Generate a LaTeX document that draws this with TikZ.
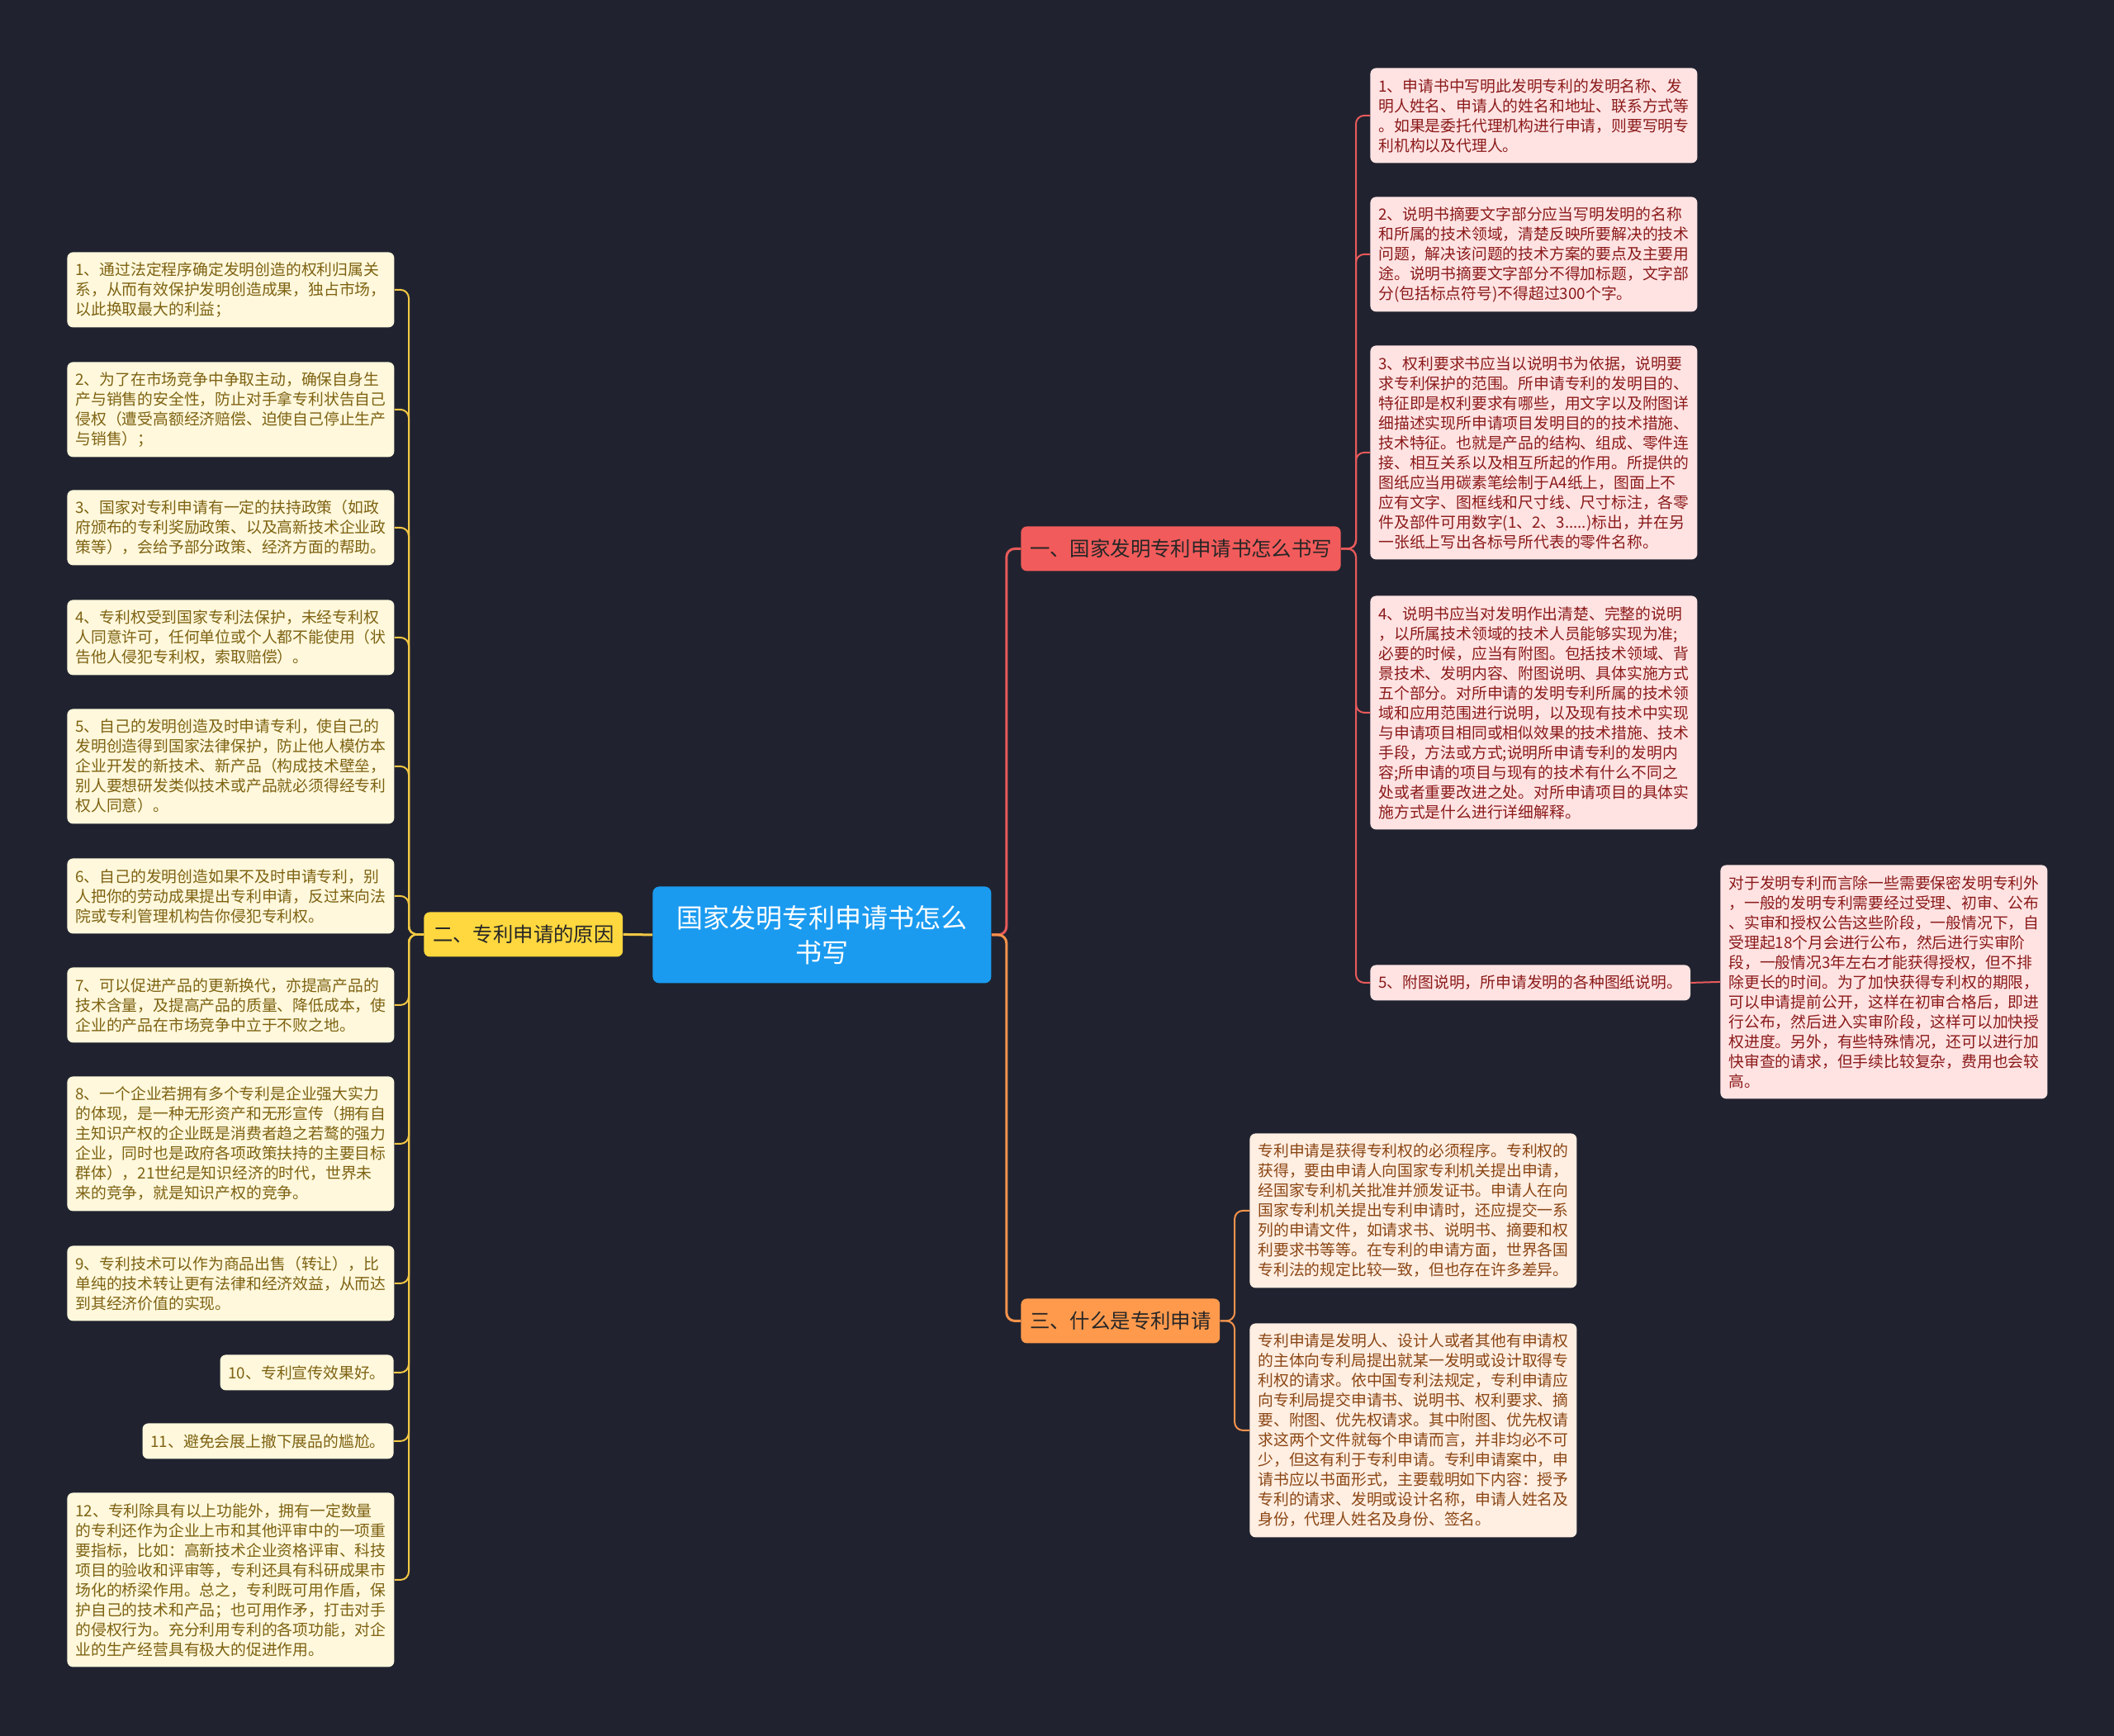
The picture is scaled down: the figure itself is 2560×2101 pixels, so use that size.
\documentclass[tikz,border=0pt]{standalone}
\usepackage{fontspec}
\setmainfont{Noto Sans CJK SC}
\usepackage{xcolor}
\usepackage{tikz}
\definecolor{bgdark}{HTML}{20232F}
\definecolor{rootblue}{HTML}{1A9BF0}
\definecolor{redmain}{HTML}{F25B5B}
\definecolor{yelmain}{HTML}{FFD83F}
\definecolor{orgmain}{HTML}{FF9A4D}
\definecolor{redleaf}{HTML}{FFE3E3}
\definecolor{yelleaf}{HTML}{FFF8DC}
\definecolor{orgleaf}{HTML}{FFEEE2}
\definecolor{redtext}{HTML}{8B1A1A}
\definecolor{yeltext}{HTML}{7D6212}
\definecolor{orgtext}{HTML}{8A4614}
\definecolor{redline}{HTML}{E85A5A}
\definecolor{yelline}{HTML}{F2C744}
\definecolor{orgline}{HTML}{F5934C}

\begin{document}
\begin{tikzpicture}[x=0.5pt,y=-0.5pt,
	root/.style={fill=rootblue,text=white,rounded corners=4pt,anchor=north west,align=center,
		minimum width=205pt,minimum height=58.5pt,font=\fontsize{16}{21}\selectfont},
	branch/.style={rounded corners=3.5pt,anchor=north west,inner xsep=5.3pt,
		minimum height=27pt,text=black!85,font=\fontsize{12.2}{14}\selectfont},
	leaf/.style={rounded corners=3.5pt,anchor=north west,inner xsep=5pt,inner ysep=2pt,
		align=left,font=\fontsize{9.4}{12}\selectfont},
	wide/.style={text width=188pt},
	leafY/.style={leaf,fill=yelleaf,text=yeltext},
	leafR/.style={leaf,fill=redleaf,text=redtext},
	leafO/.style={leaf,fill=orgleaf,text=orgtext},
	mainlink/.style={line width=1.5pt,rounded corners=5pt},
	link/.style={line width=1pt,rounded corners=5pt}]

	\useasboundingbox (0,0) rectangle (2560,2101);
	\fill[bgdark] (-6,-6) rectangle (2566,2107);

	\node[root] (ctr) at (790,1073) {国家发明专利申请书怎么\\书写};
	\node[branch,fill=redmain] (b1) at (1236,637) {一、国家发明专利申请书怎么书写};
	\node[branch,fill=yelmain] (b2) at (513,1104) {二、专利申请的原因};
	\node[branch,fill=orgmain] (b3) at (1236,1572) {三、什么是专利申请};

	\node[leafY,wide,minimum height=45.5pt] (l1) at (81,305) {1、通过法定程序确定发明创造的权利归属关\\系，从而有效保护发明创造成果，独占市场，\\以此换取最大的利益；};
	\node[leafY,wide,minimum height=57.5pt] (l2) at (81,438) {2、为了在市场竞争中争取主动，确保自身生\\产与销售的安全性，防止对手拿专利状告自己\\侵权（遭受高额经济赔偿、迫使自己停止生产\\与销售）；};
	\node[leafY,wide,minimum height=45.5pt] (l3) at (81,593) {3、国家对专利申请有一定的扶持政策（如政\\府颁布的专利奖励政策、以及高新技术企业政\\策等），会给予部分政策、经济方面的帮助。};
	\node[leafY,wide,minimum height=45.5pt] (l4) at (81,726) {4、专利权受到国家专利法保护，未经专利权\\人同意许可，任何单位或个人都不能使用（状\\告他人侵犯专利权，索取赔偿）。};
	\node[leafY,wide,minimum height=69.5pt] (l5) at (81,858) {5、自己的发明创造及时申请专利，使自己的\\发明创造得到国家法律保护，防止他人模仿本\\企业开发的新技术、新产品（构成技术壁垒，\\别人要想研发类似技术或产品就必须得经专利\\权人同意）。};
	\node[leafY,wide,minimum height=45.5pt] (l6) at (81,1039) {6、自己的发明创造如果不及时申请专利，别\\人把你的劳动成果提出专利申请，反过来向法\\院或专利管理机构告你侵犯专利权。};
	\node[leafY,wide,minimum height=45.5pt] (l7) at (81,1171) {7、可以促进产品的更新换代，亦提高产品的\\技术含量，及提高产品的质量、降低成本，使\\企业的产品在市场竞争中立于不败之地。};
	\node[leafY,wide,minimum height=81.5pt] (l8) at (81,1303) {8、一个企业若拥有多个专利是企业强大实力\\的体现，是一种无形资产和无形宣传（拥有自\\主知识产权的企业既是消费者趋之若鹜的强力\\企业，同时也是政府各项政策扶持的主要目标\\群体），21世纪是知识经济的时代，世界未\\来的竞争，就是知识产权的竞争。};
	\node[leafY,wide,minimum height=45.5pt] (l9) at (81,1508) {9、专利技术可以作为商品出售（转让），比\\单纯的技术转让更有法律和经济效益，从而达\\到其经济价值的实现。};
	\node[leafY,anchor=north east,minimum height=21.5pt] (l10) at (477,1640) {10、专利宣传效果好。};
	\node[leafY,anchor=north east,minimum height=21.5pt] (l11) at (477,1723) {11、避免会展上撤下展品的尴尬。};
	\node[leafY,wide,minimum height=105.5pt] (l12) at (81,1807) {12、专利除具有以上功能外，拥有一定数量\\的专利还作为企业上市和其他评审中的一项重\\要指标，比如：高新技术企业资格评审、科技\\项目的验收和评审等，专利还具有科研成果市\\场化的桥梁作用。总之，专利既可用作盾，保\\护自己的技术和产品；也可用作矛，打击对手\\的侵权行为。充分利用专利的各项功能，对企\\业的生产经营具有极大的促进作用。};

	\node[leafR,wide,minimum height=57.5pt] (r1) at (1659,82) {1、申请书中写明此发明专利的发明名称、发\\明人姓名、申请人的姓名和地址、联系方式等\\。如果是委托代理机构进行申请，则要写明专\\利机构以及代理人。};
	\node[leafR,wide,minimum height=69.5pt] (r2) at (1659,238) {2、说明书摘要文字部分应当写明发明的名称\\和所属的技术领域，清楚反映所要解决的技术\\问题，解决该问题的技术方案的要点及主要用\\途。说明书摘要文字部分不得加标题，文字部\\分(包括标点符号)不得超过300个字。};
	\node[leafR,wide,minimum height=129.5pt] (r3) at (1659,418) {3、权利要求书应当以说明书为依据，说明要\\求专利保护的范围。所申请专利的发明目的、\\特征即是权利要求有哪些，用文字以及附图详\\细描述实现所申请项目发明目的的技术措施、\\技术特征。也就是产品的结构、组成、零件连\\接、相互关系以及相互所起的作用。所提供的\\图纸应当用碳素笔绘制于A4纸上，图面上不\\应有文字、图框线和尺寸线、尺寸标注，各零\\件及部件可用数字(1、2、3.....)标出，并在另\\一张纸上写出各标号所代表的零件名称。};
	\node[leafR,wide,minimum height=141.5pt] (r4) at (1659,721) {4、说明书应当对发明作出清楚、完整的说明\\，以所属技术领域的技术人员能够实现为准;\\必要的时候，应当有附图。包括技术领域、背\\景技术、发明内容、附图说明、具体实施方式\\五个部分。对所申请的发明专利所属的技术领\\域和应用范围进行说明，以及现有技术中实现\\与申请项目相同或相似效果的技术措施、技术\\手段，方法或方式;说明所申请专利的发明内\\容;所申请的项目与现有的技术有什么不同之\\处或者重要改进之处。对所申请项目的具体实\\施方式是什么进行详细解释。};
	\node[leafR,minimum height=21.5pt] (r5) at (1659,1168) {5、附图说明，所申请发明的各种图纸说明。};
	\node[leafR,wide,minimum height=141.5pt] (r5a) at (2083,1047) {对于发明专利而言除一些需要保密发明专利外\\，一般的发明专利需要经过受理、初审、公布\\、实审和授权公告这些阶段，一般情况下，自\\受理起18个月会进行公布，然后进行实审阶\\段，一般情况3年左右才能获得授权，但不排\\除更长的时间。为了加快获得专利权的期限，\\可以申请提前公开，这样在初审合格后，即进\\行公布，然后进入实审阶段，这样可以加快授\\权进度。另外，有些特殊情况，还可以进行加\\快审查的请求，但手续比较复杂，费用也会较\\高。};

	\node[leafO,wide,minimum height=93.5pt] (t1) at (1513,1372) {专利申请是获得专利权的必须程序。专利权的\\获得，要由申请人向国家专利机关提出申请，\\经国家专利机关批准并颁发证书。申请人在向\\国家专利机关提出专利申请时，还应提交一系\\列的申请文件，如请求书、说明书、摘要和权\\利要求书等等。在专利的申请方面，世界各国\\专利法的规定比较一致，但也存在许多差异。};
	\node[leafO,wide,minimum height=129.5pt] (t2) at (1513,1602) {专利申请是发明人、设计人或者其他有申请权\\的主体向专利局提出就某一发明或设计取得专\\利权的请求。依中国专利法规定，专利申请应\\向专利局提交申请书、说明书、权利要求、摘\\要、附图、优先权请求。其中附图、优先权请\\求这两个文件就每个申请而言，并非均必不可\\少，但这有利于专利申请。专利申请案中，申\\请书应以书面形式，主要载明如下内容：授予\\专利的请求、发明或设计名称，申请人姓名及\\身份，代理人姓名及身份、签名。};

	\draw[mainlink,yelline] (ctr.west) -- (b2.east);
	\draw[mainlink,redline] (ctr.east) -- ++(18,0) |- (b1.west);
	\draw[mainlink,orgline] (ctr.east) -- ++(18,0) |- (b3.west);

	\draw[link,yelline] (b2.west) -- ++(-18,0) |- (l1.east);
	\draw[link,yelline] (b2.west) -- ++(-18,0) |- (l2.east);
	\draw[link,yelline] (b2.west) -- ++(-18,0) |- (l3.east);
	\draw[link,yelline] (b2.west) -- ++(-18,0) |- (l4.east);
	\draw[link,yelline] (b2.west) -- ++(-18,0) |- (l5.east);
	\draw[link,yelline] (b2.west) -- ++(-18,0) |- (l6.east);
	\draw[link,yelline] (b2.west) -- ++(-18,0) |- (l7.east);
	\draw[link,yelline] (b2.west) -- ++(-18,0) |- (l8.east);
	\draw[link,yelline] (b2.west) -- ++(-18,0) |- (l9.east);
	\draw[link,yelline] (b2.west) -- ++(-18,0) |- (l10.east);
	\draw[link,yelline] (b2.west) -- ++(-18,0) |- (l11.east);
	\draw[link,yelline] (b2.west) -- ++(-18,0) |- (l12.east);

	\draw[link,redline] (b1.east) -- ++(18,0) |- (r1.west);
	\draw[link,redline] (b1.east) -- ++(18,0) |- (r2.west);
	\draw[link,redline] (b1.east) -- ++(18,0) |- (r3.west);
	\draw[link,redline] (b1.east) -- ++(18,0) |- (r4.west);
	\draw[link,redline] (b1.east) -- ++(18,0) |- (r5.west);
	\draw[link,redline] (r5.east) -- (r5a.west);

	\draw[link,orgline] (b3.east) -- ++(17.5,0) |- (t1.west);
	\draw[link,orgline] (b3.east) -- ++(17.5,0) |- (t2.west);
\end{tikzpicture}
\end{document}
